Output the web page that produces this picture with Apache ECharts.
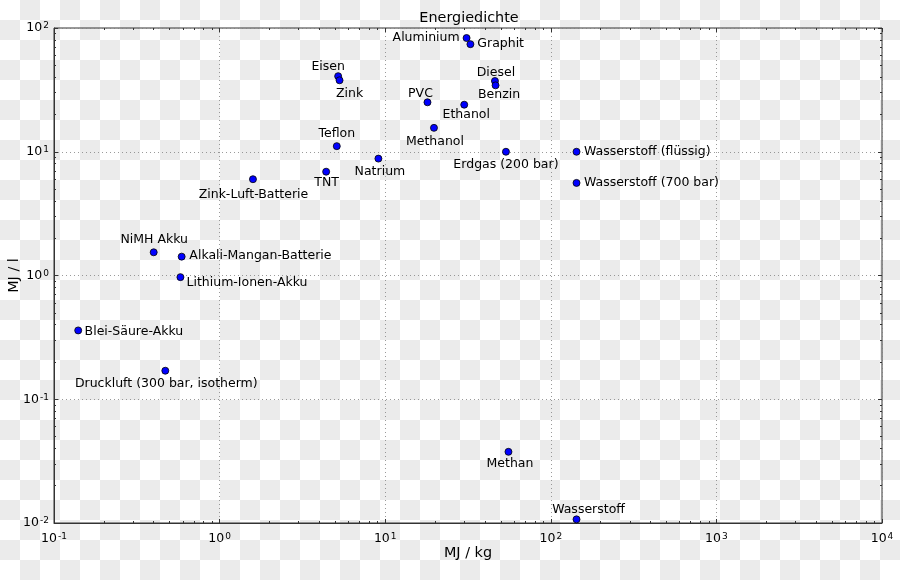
<!DOCTYPE html>
<html>
<head>
<meta charset="utf-8">
<script src="https://cdn.jsdelivr.net/npm/echarts@6/dist/echarts.min.js"></script>
<style>
  html, body { margin: 0; padding: 0; }
  body {
    width: 900px; height: 580px;
    background: repeating-conic-gradient(#ebebeb 0 25%, #ffffff 0 50%) 0 0 / 40px 40px;
  }
  #chart { width: 900px; height: 580px; }
</style>
</head>
<body>
<div id="chart"></div>
<script>
// ---- data ----
const names = ['Aluminium', 'Graphit', 'Eisen', 'Zink', 'PVC', 'Ethanol', 'Methanol', 'Diesel', 'Benzin',
  'Teflon', 'Natrium', 'TNT', 'Zink-Luft-Batterie', 'Erdgas (200 bar)', 'Wasserstoff (flüssig)',
  'Wasserstoff (700 bar)', 'NiMH Akku', 'Alkali-Mangan-Batterie', 'Lithium-Ionen-Akku', 'Blei-Säure-Akku',
  'Druckluft (300 bar, isotherm)', 'Methan', 'Wasserstoff'];
const mjPerKg = [31, 32.7, 5.2, 5.3, 18, 30, 19.7, 46, 46.4,
  5.1, 9.1, 4.4, 1.59, 53.6, 143,
  143, 0.4, 0.59, 0.58, 0.14,
  0.47, 55.5, 143];
const mjPerL = [83, 74, 40.8, 37.8, 25.1, 24, 15.6, 37.3, 34.4,
  11.1, 8.8, 6.9, 6.0, 10, 10,
  5.6, 1.54, 1.42, 0.97, 0.36,
  0.17, 0.0376, 0.0107];
const xTickExponents = ['-1', '0', '1', '2', '3', '4'];
const yTickExponents = ['-2', '-1', '0', '1', '2'];
const titleText = 'Energiedichte';
const xName = 'MJ / kg';
const yName = 'MJ / l';

// ---- label placement (style) ----
const labelPlace = {
  'Aluminium': { position: 'left', distance: 3, offset: [0, 0] },
  'Graphit': { position: 'right', distance: 3, offset: [0, 0] },
  'Eisen': { position: 'inside', offset: [-10, -9] },
  'Zink': { position: 'inside', offset: [10, 13] },
  'PVC': { position: 'inside', offset: [-7, -9] },
  'Ethanol': { position: 'inside', offset: [2, 10] },
  'Methanol': { position: 'inside', offset: [1, 14] },
  'Diesel': { position: 'inside', offset: [1, -8.5] },
  'Benzin': { position: 'inside', offset: [3.5, 9.5] },
  'Teflon': { position: 'inside', offset: [0, -12] },
  'Natrium': { position: 'inside', offset: [1.5, 13] },
  'TNT': { position: 'inside', offset: [0.5, 11.5] },
  'Zink-Luft-Batterie': { position: 'inside', offset: [0.5, 15.5] },
  'Erdgas (200 bar)': { position: 'inside', offset: [0, 13] },
  'Wasserstoff (flüssig)': { position: 'right', distance: 3.5, offset: [0, 0] },
  'Wasserstoff (700 bar)': { position: 'right', distance: 3.5, offset: [0, 0] },
  'NiMH Akku': { position: 'inside', offset: [0.5, -12.5] },
  'Alkali-Mangan-Batterie': { position: 'right', distance: 3.8, offset: [0, -0.5] },
  'Lithium-Ionen-Akku': { position: 'right', distance: 2.2, offset: [0, 6] },
  'Blei-Säure-Akku': { position: 'right', distance: 2.5, offset: [0, 1] },
  'Druckluft (300 bar, isotherm)': { position: 'inside', offset: [1, 13.5] },
  'Methan': { position: 'inside', offset: [1.5, 12.3] },
  'Wasserstoff': { position: 'inside', offset: [12, -9.5] }
};

const FONT = 'DejaVu Sans';
const frameColor = '#333333';

// minor tick positions (log10 space) for the overlay tick axes
function minorTicks(lo, hi) {
  const out = [];
  for (let d = lo; d < hi; d++) {
    for (let m = 2; m <= 9; m++) out.push(d + Math.log10(m));
  }
  return out;
}
function majorTicks(lo, hi) {
  const out = [];
  for (let d = lo; d <= hi; d++) out.push(d);
  return out;
}

const richTick = {
  b: { fontSize: 12.5, fontFamily: FONT, color: '#000' },
  s: { fontSize: 9, fontFamily: FONT, color: '#000', verticalAlign: 'top', padding: [0, 0, 0, 1] }
};

function tickAxis(position, lo, hi, values, len) {
  return {
    type: 'value',
    position: position,
    min: lo, max: hi,
    gridIndex: 0,
    axisLine: { show: false, onZero: false },
    axisLabel: { show: false },
    splitLine: { show: false },
    axisTick: {
      show: true, inside: true, length: len, customValues: values,
      lineStyle: { color: frameColor, width: 1 }
    }
  };
}

const chart = echarts.init(document.getElementById('chart'), null, { renderer: 'canvas' });

const option = {
  animation: false,
  textStyle: { fontFamily: FONT },
  title: {
    text: titleText,
    left: 469, top: 11, textAlign: 'center', padding: 0,
    textStyle: { fontSize: 14.4, fontWeight: 'normal', color: '#000', fontFamily: FONT }
  },
  grid: {
    left: 54, top: 28, width: 828, height: 495,
    containLabel: false, outerBoundsMode: 'none',
    show: true, borderColor: frameColor, borderWidth: 1, backgroundColor: 'transparent'
  },
  xAxis: [
    {
      type: 'log', logBase: 10, min: 0.1, max: 10000, position: 'bottom',
      name: xName, nameLocation: 'middle', nameGap: 23, nameMoveOverlap: false,
      nameTextStyle: { fontSize: 14.4, color: '#000', fontFamily: FONT },
      axisLine: { show: true, onZero: false, lineStyle: { color: frameColor, width: 1 } },
      axisTick: { show: true, inside: true, length: 4, lineStyle: { color: frameColor } },
      minorTick: { show: false },
      axisLabel: {
        margin: 9,
        formatter: function (v, i) { return '{b|10}{s|' + xTickExponents[i] + '}'; },
        rich: richTick
      },
      splitLine: { show: true, lineStyle: { color: '#808080', width: 0.8, type: [1, 3] } }
    },
    tickAxis('bottom', -1, 4, minorTicks(-1, 4), 2),
    tickAxis('top', -1, 4, majorTicks(-1, 4), 4),
    tickAxis('top', -1, 4, minorTicks(-1, 4), 2)
  ],
  yAxis: [
    {
      type: 'log', logBase: 10, min: 0.01, max: 100, position: 'left',
      name: yName, nameLocation: 'middle', nameGap: 33, nameMoveOverlap: false,
      nameTextStyle: { fontSize: 14.4, color: '#000', fontFamily: FONT },
      axisLine: { show: true, onZero: false, lineStyle: { color: frameColor, width: 1 } },
      axisTick: { show: true, inside: true, length: 4, lineStyle: { color: frameColor } },
      minorTick: { show: false },
      axisLabel: {
        margin: 5,
        formatter: function (v, i) { return '{b|10}{s|' + yTickExponents[i] + '}'; },
        rich: richTick
      },
      splitLine: { show: true, lineStyle: { color: '#808080', width: 0.8, type: [1, 3] } }
    },
    tickAxis('left', -2, 2, minorTicks(-2, 2), 2),
    tickAxis('right', -2, 2, majorTicks(-2, 2), 4),
    tickAxis('right', -2, 2, minorTicks(-2, 2), 2)
  ],
  series: [{
    type: 'scatter',
    xAxisIndex: 0, yAxisIndex: 0,
    symbol: 'circle', symbolSize: 7,
    itemStyle: { color: '#0000ff', borderColor: '#000', borderWidth: 0.8, opacity: 1 },
    label: { show: true, formatter: '{b}', color: '#000', fontSize: 12.5, fontFamily: FONT },
    emphasis: { disabled: true },
    data: names.map(function (n, i) {
      const p = labelPlace[n];
      return {
        name: n,
        value: [mjPerKg[i], mjPerL[i]],
        label: { position: p.position, distance: p.distance || 0, offset: p.offset }
      };
    })
  }]
};
chart.setOption(option);
</script>
</body>
</html>
